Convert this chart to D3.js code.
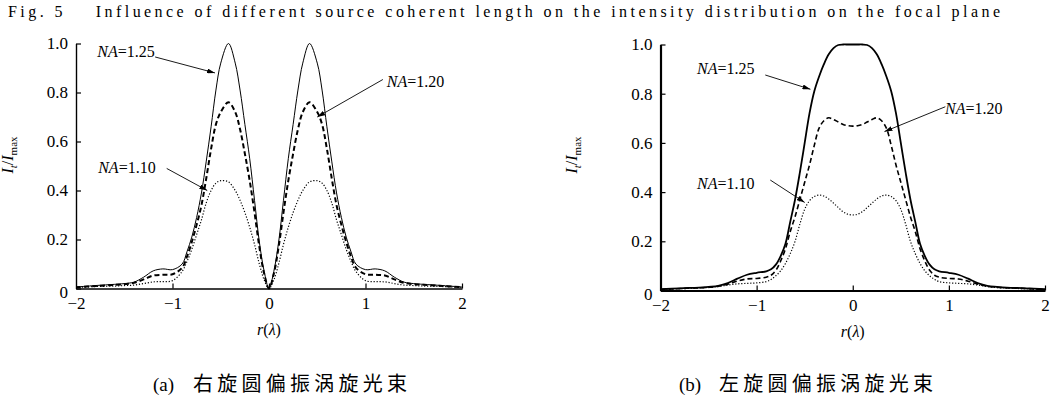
<!DOCTYPE html>
<html><head><meta charset="utf-8">
<script src="https://cdn.jsdelivr.net/npm/d3@7"></script>
<style>
body{margin:0;background:#fff}
svg text{font-family:"Liberation Serif","Times New Roman",serif;fill:#000}
svg text.cjk{font-family:"Noto Sans CJK SC","Noto Sans",sans-serif}
</style>
</head><body>
<svg id="c" width="1055" height="400"></svg>
<script>
// ---------------- DATA ----------------
const titleText = "Fig. 5    Influence of different source coherent length on the intensity distribution on the focal plane";
const captionTags = ["(a)", "(b)"];
const captions = ["右旋圆偏振涡旋光束", "左旋圆偏振涡旋光束"];
const seriesNames = ["1.25", "1.20", "1.10"];
const xTicks = [-2, -1, 0, 1, 2];
const yTicks = [0, 0.2, 0.4, 0.6, 0.8, 1.0];

// panel (a): right-handed vortex beam
const rA = [-2,-1.8,-1.6,-1.5,-1.4,-1.3,-1.2,-1.1,-1.0,-0.9,-0.85,-0.8,-0.75,-0.7,-0.65,-0.6,-0.55,-0.5,-0.42,-0.35,-0.3,-0.25,-0.2,-0.15,-0.1,-0.05,
  0, 0.05,0.1,0.15,0.2,0.25,0.3,0.35,0.42,0.5,0.55,0.6,0.65,0.7,0.75,0.8,0.85,0.9,1.0,1.1,1.2,1.3,1.4,1.5,1.6,1.8,2];
const a125 = [0.006,0.012,0.017,0.02,0.026,0.046,0.072,0.08,0.077,0.10,0.15,0.21,0.29,0.39,0.52,0.66,0.81,0.92,1.0,0.92,0.81,0.67,0.53,0.36,0.19,0.07,
  0, 0.07,0.19,0.36,0.53,0.67,0.81,0.92,1.0,0.92,0.81,0.66,0.52,0.39,0.29,0.21,0.15,0.10,0.077,0.08,0.072,0.046,0.026,0.02,0.017,0.012,0.006];
const a120 = [0.005,0.01,0.015,0.018,0.023,0.037,0.053,0.056,0.058,0.085,0.13,0.19,0.26,0.34,0.45,0.57,0.67,0.72,0.76,0.72,0.65,0.55,0.44,0.31,0.17,0.06,
  0, 0.06,0.17,0.31,0.44,0.55,0.65,0.72,0.76,0.72,0.67,0.57,0.45,0.34,0.26,0.19,0.13,0.085,0.058,0.056,0.053,0.037,0.023,0.018,0.015,0.01,0.005];
const a110 = [0.004,0.008,0.01,0.012,0.014,0.02,0.027,0.028,0.032,0.07,0.11,0.16,0.22,0.28,0.35,0.40,0.43,0.44,0.435,0.40,0.36,0.31,0.25,0.18,0.10,0.035,
  0, 0.035,0.10,0.18,0.25,0.31,0.36,0.40,0.435,0.44,0.43,0.40,0.35,0.28,0.22,0.16,0.11,0.07,0.032,0.028,0.027,0.02,0.014,0.012,0.01,0.008,0.004];

// panel (b): left-handed vortex beam
const rB = [-2,-1.8,-1.6,-1.5,-1.4,-1.3,-1.2,-1.1,-1.0,-0.9,-0.85,-0.8,-0.75,-0.7,-0.65,-0.6,-0.55,-0.5,-0.45,-0.4,-0.35,-0.3,-0.25,-0.2,-0.15,-0.1,-0.05,
  0, 0.05,0.1,0.15,0.2,0.25,0.3,0.35,0.4,0.45,0.5,0.55,0.6,0.65,0.7,0.75,0.8,0.85,0.9,1.0,1.1,1.2,1.3,1.4,1.5,1.6,1.8,2];
const b125 = [0.005,0.009,0.012,0.015,0.019,0.03,0.048,0.064,0.072,0.078,0.086,0.105,0.14,0.19,0.28,0.37,0.48,0.60,0.72,0.81,0.87,0.92,0.96,0.985,0.998,1.0,1.0,
  1.0, 1.0,1.0,0.998,0.985,0.96,0.92,0.87,0.81,0.72,0.60,0.48,0.37,0.28,0.19,0.14,0.105,0.086,0.078,0.072,0.064,0.048,0.03,0.019,0.015,0.012,0.009,0.005];
const b120 = [0.004,0.008,0.011,0.013,0.017,0.026,0.038,0.047,0.049,0.054,0.062,0.082,0.12,0.17,0.24,0.30,0.37,0.44,0.51,0.59,0.66,0.69,0.702,0.695,0.685,0.675,0.67,
  0.668, 0.67,0.675,0.685,0.695,0.702,0.69,0.66,0.59,0.51,0.44,0.37,0.30,0.24,0.17,0.12,0.082,0.062,0.054,0.049,0.047,0.038,0.026,0.017,0.013,0.011,0.008,0.004];
const b110 = [0.004,0.007,0.01,0.012,0.016,0.022,0.027,0.029,0.031,0.036,0.045,0.06,0.08,0.11,0.15,0.20,0.27,0.33,0.365,0.382,0.388,0.384,0.372,0.355,0.337,0.32,0.31,
  0.307, 0.31,0.32,0.337,0.355,0.372,0.384,0.388,0.382,0.365,0.33,0.27,0.20,0.15,0.11,0.08,0.06,0.045,0.036,0.031,0.029,0.027,0.022,0.016,0.012,0.01,0.007,0.004];

// annotation anchors in data units: text (r,v), arrow start (r,v), arrow tip (r,v)
const annA = [
  {s:0, tx:-1.78, tv:0.945, x1:-1.18, v1:0.945, x2:-0.56, v2:0.88},
  {s:1, tx:1.22,  tv:0.822, x1:1.18,  v1:0.853, x2:0.50,  v2:0.70},
  {s:2, tx:-1.77, tv:0.471, x1:-1.06, v1:0.49,  x2:-0.64, v2:0.40}
];
const annB = [
  {s:0, tx:-1.62, tv:0.88,  x1:-0.91, v1:0.876, x2:-0.44, v2:0.818},
  {s:1, tx:0.96,  tv:0.717, x1:0.963, v1:0.747, x2:0.33,  v2:0.646},
  {s:2, tx:-1.62, tv:0.413, x1:-0.858,v1:0.449, x2:-0.50, v2:0.358}
];

// ---------------- DRAW ----------------
const SERIF = "'Liberation Serif','Times New Roman',serif";
const svg = d3.select("#c");
const defs = svg.append("defs");
defs.append("marker").attr("id","arr").attr("viewBox","0 0 8 5")
  .attr("refX",8).attr("refY",2.5).attr("markerWidth",8).attr("markerHeight",5)
  .attr("markerUnits","userSpaceOnUse").attr("orient","auto")
  .append("path").attr("d","M0,0L8,2.5L0,5Z").attr("fill","#000");

svg.append("text").attr("x",8).attr("y",17).attr("font-size",16).style("font-family",SERIF)
  .attr("textLength",992).attr("lengthAdjust","spacing").style("white-space","pre")
  .text(titleText);

function panel(cfg){
  const x = d3.scaleLinear().domain([-2,2]).range(cfg.xr);
  const y = d3.scaleLinear().domain([0,1]).range(cfg.yr);
  const g = svg.append("g");

  const yAxis = d3.axisLeft(y).tickValues(yTicks).tickSizeInner(-5).tickSizeOuter(0).tickPadding(8)
    .tickFormat(d => d === 0 ? "0" : d3.format(".1f")(d));
  const gy = g.append("g").attr("transform",`translate(${cfg.xr[0]},0)`).call(yAxis);
  const xAxis = d3.axisBottom(x).tickValues(xTicks).tickSizeInner(-5).tickSizeOuter(0).tickPadding(8)
    .tickFormat(d3.format("d"));
  const gx = g.append("g").attr("transform",`translate(0,${cfg.yr[0]})`).call(xAxis);
  [gx, gy].forEach(a => {
    a.attr("font-family", SERIF);
    a.selectAll("path.domain").attr("stroke","#000").attr("stroke-width",cfg.aw);
    a.selectAll(".tick line").attr("stroke","#000").attr("stroke-width",1.2);
    a.selectAll(".tick text").attr("font-size",17).style("font-family",SERIF).attr("fill","#000");
  });
  gy.selectAll(".tick text").filter(d => d === 0).attr("dy","0.55em");
  gx.selectAll(".tick").filter(d => d === -2).select("line").remove();

  const line = d3.line().x(d => x(d[0])).y(d => y(d[1])).curve(d3.curveCatmullRom.alpha(0.5));
  const styles = [
    {w:cfg.sw, dash:null},
    {w:cfg.dw, dash:"5,3"},
    {w:1.2, dash:"1.2,1.8"}
  ];
  cfg.series.forEach((vals,i) => {
    const pts = cfg.r.map((r,k) => [r, vals[k]]);
    g.append("path").attr("d", line(pts)).attr("fill","none").attr("stroke","#000")
      .attr("stroke-width", styles[i].w).attr("stroke-dasharray", styles[i].dash);
  });

  cfg.ann.forEach(a => {
    g.append("line").attr("x1",x(a.x1)).attr("y1",y(a.v1)).attr("x2",x(a.x2)).attr("y2",y(a.v2))
      .attr("stroke","#000").attr("stroke-width",0.9).attr("marker-end","url(#arr)");
    const t = g.append("text").attr("x",x(a.tx)).attr("y",y(a.tv)).attr("font-size",16).style("font-family",SERIF);
    t.append("tspan").attr("font-style","italic").text("NA");
    t.append("tspan").text("=" + seriesNames[a.s]);
  });

  // x label r(λ)
  const xl = g.append("text").attr("x",x(0)).attr("y",cfg.yr[0]+46).attr("text-anchor","middle")
    .attr("font-size",16).style("font-family",SERIF);
  xl.append("tspan").attr("font-style","italic").text("r");
  xl.append("tspan").text("(");
  xl.append("tspan").attr("font-style","italic").text("λ");
  xl.append("tspan").text(")");

  // y label I_t/I_max
  const yl = g.append("text").attr("transform",`translate(${cfg.ylx},155) rotate(-90)`)
    .attr("text-anchor","middle").attr("font-size",16).style("font-family",SERIF);
  yl.append("tspan").attr("font-style","italic").text("I");
  yl.append("tspan").attr("font-style","italic").attr("font-size",11).attr("dy",4).text("t");
  yl.append("tspan").attr("dy",-4).text("/");
  yl.append("tspan").attr("font-style","italic").text("I");
  yl.append("tspan").attr("font-size",11).attr("dy",4).text("max");

  // caption
  svg.append("text").attr("x",cfg.capx).attr("y",391).attr("font-size",19).style("font-family",SERIF)
    .text(cfg.tag);
  svg.append("text").attr("class","cjk").attr("x",cfg.capx+40).attr("y",391).attr("font-size",20)
    .attr("textLength",214).attr("lengthAdjust","spacing")
    .text(cfg.cap);
}

panel({xr:[76,462], yr:[288.5,43.5], r:rA, series:[a125,a120,a110], ann:annA,
  aw:1.4, sw:1.0, dw:2.0, ylx:13, capx:153, tag:captionTags[0], cap:captions[0]});
panel({xr:[660.5,1045], yr:[290.5,44.5], r:rB, series:[b125,b120,b110], ann:annB,
  aw:2.2, sw:1.8, dw:1.6, ylx:577, capx:679, tag:captionTags[1], cap:captions[1]});
</script>
</body></html>
